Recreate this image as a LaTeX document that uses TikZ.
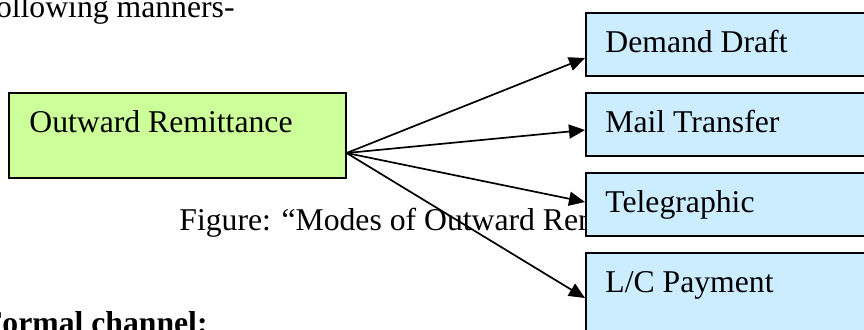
\documentclass[tikz,border=0pt]{standalone}
\usepackage{fontspec}
\setmainfont{Liberation Serif}
\usetikzlibrary{arrows.meta}
\definecolor{leafgreen}{RGB}{204,255,153}
\definecolor{paleblue}{RGB}{204,236,255}
\tikzset{
  greenbox/.style={draw=black, fill=leafgreen, line width=0.8pt, anchor=north west,
    inner sep=0pt, minimum width=168.5pt, minimum height=42.5pt},
  modebox/.style={draw=black, fill=paleblue, line width=0.8pt, anchor=north west,
    inner sep=0pt, minimum width=147.5pt, minimum height=31.5pt},
  txt/.style={anchor=base west, inner sep=0pt, font=\fontsize{15.85}{19}\selectfont},
  link/.style={-{Triangle[length=8pt,width=7pt]}, line width=0.85pt},
}
\begin{document}
\begin{tikzpicture}[x=0.5pt, y=-0.5pt]
  \useasboundingbox (0,0) rectangle (864,329);
  \clip (0,0) rectangle (864,329);

  % surrounding body text
  \node[txt, anchor=base east] (lead) at (235,17) {following manners-};
  \node[txt] (caption) at (179,230) {Figure: “Modes of Outward Remittance”};
  \node[txt, anchor=base east, font=\fontsize{15.85}{19}\selectfont\bfseries] (next) at (208,333) {Formal channel:};

  % source box
  \node[greenbox] (src) at (8,92) {};
  \node[txt] (srclabel) at (29,132) {Outward Remittance};

  % mode boxes
  \node[modebox] (dd) at (585,12) {};
  \node[modebox] (mt) at (585,92) {};
  \node[modebox] (tt) at (585,172) {};
  \node[modebox, minimum height=44pt] (lc) at (585,252) {};
  \node[txt] (ddlabel) at (605,52) {Demand Draft};
  \node[txt] (mtlabel) at (605,132) {Mail Transfer};
  \node[txt] (ttlabel) at (605,212) {Telegraphic};
  \node[txt] (lclabel) at (605,292) {L/C Payment};

  % fan of arrows
  \coordinate (fan) at (src.east |- 0,153);
  \draw[link] (fan) -- (dd.west |- 0,58);
  \draw[link] (fan) -- (mt.west |- 0,130);
  \draw[link] (fan) -- (tt.west |- 0,202);
  \draw[link] (fan) -- (lc.west |- 0,298);
\end{tikzpicture}
\end{document}
